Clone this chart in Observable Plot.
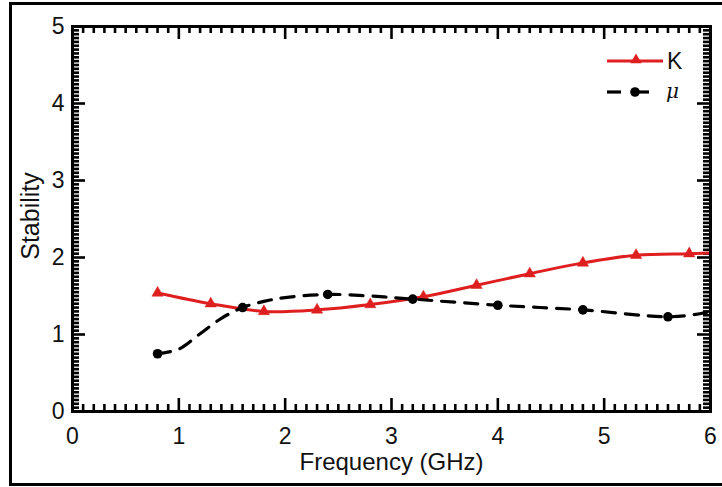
<!DOCTYPE html>
<html>
<head>
<meta charset="utf-8">
<script src="https://cdn.jsdelivr.net/npm/d3@7"></script>
<script src="https://cdn.jsdelivr.net/npm/@observablehq/plot@0.6"></script>
<style>
  html, body { margin: 0; padding: 0; background: #fff; overflow: hidden; }
  #wrap { position: relative; width: 722px; height: 487px; overflow: hidden; }
  #border { position: absolute; left: 9px; top: 2px; width: 730px; height: 484px; border: 3px solid #000; box-sizing: border-box; pointer-events: none; }
  #legend { position: absolute; left: 598px; top: 42px; }
</style>
</head>
<body>
<div id="wrap"><div id="border"></div></div>
<script>
// ---- data ----
const kFreq = [0.8, 1.3, 1.8, 2.3, 2.8, 3.3, 3.8, 4.3, 4.8, 5.3, 5.8];
const kValues = [1.54, 1.40, 1.30, 1.32, 1.39, 1.49, 1.64, 1.79, 1.93, 2.03, 2.05];
const kLineFreq = [0.8, 1.3, 1.8, 2.3, 2.8, 3.3, 3.8, 4.3, 4.8, 5.3, 5.8, 6.0];
const kLineValues = [1.54, 1.40, 1.30, 1.32, 1.39, 1.49, 1.64, 1.79, 1.93, 2.03, 2.05, 2.06];

const muFreq = [0.8, 1.6, 2.4, 3.2, 4.0, 4.8, 5.6];
const muValues = [0.75, 1.35, 1.52, 1.46, 1.38, 1.32, 1.23];
const muLineFreq = [0.8, 1.0, 1.2, 1.4, 1.6, 1.8, 2.0, 2.4, 2.8, 3.2, 4.0, 4.8, 5.6, 5.9, 6.0];
const muLineValues = [0.75, 0.81, 1.01, 1.21, 1.35, 1.43, 1.48, 1.52, 1.50, 1.46, 1.38, 1.32, 1.23, 1.27, 1.30];

const xMajor = [0, 1, 2, 3, 4, 5, 6];
const yMajor = [0, 1, 2, 3, 4, 5];
const xMinor = d3.range(0, 61).map(i => i / 10).filter(v => Math.abs(v - Math.round(v)) > 1e-9);
const yMinor = d3.range(0, 101).map(i => i / 20).filter(v => Math.abs(v - Math.round(v)) > 1e-9);

const seriesNames = ["K", "\u03bc"];
const red = "#df1f1f";

// ---- layout ----
const W = 722, H = 487;
const mL = 72, mR = 12, mT = 26, mB = 76;
const fw = W - mL - mR, fh = H - mT - mB;
const majLen = 13, minLen = 7;

const k = kFreq.map((f, i) => ({f, v: kValues[i]}));
const kLine = kLineFreq.map((f, i) => ({f, v: kLineValues[i]}));
const mu = muFreq.map((f, i) => ({f, v: muValues[i]}));
const muLine = muLineFreq.map((f, i) => ({f, v: muLineValues[i]}));

const tickStyle = {stroke: "#000", strokeWidth: 2.6, strokeLinecap: "butt"};

const chart = Plot.plot({
  width: W, height: H,
  marginLeft: mL, marginRight: mR, marginTop: mT, marginBottom: mB,
  style: {fontFamily: "'Liberation Sans', Arial, sans-serif", fontSize: "23px", color: "#000", background: "transparent"},
  x: {domain: [0, 6]},
  y: {domain: [0, 5]},
  marks: [
    // ticks (inward, on all four sides)
    Plot.tickX(xMajor, {x: d => d, insetTop: fh - majLen, ...tickStyle}),
    Plot.tickX(xMajor, {x: d => d, insetBottom: fh - majLen, ...tickStyle}),
    Plot.tickX(xMinor, {x: d => d, insetTop: fh - minLen, ...tickStyle}),
    Plot.tickX(xMinor, {x: d => d, insetBottom: fh - minLen, ...tickStyle}),
    Plot.tickY(yMajor, {y: d => d, insetRight: fw - majLen, ...tickStyle}),
    Plot.tickY(yMajor, {y: d => d, insetLeft: fw - majLen, ...tickStyle}),
    Plot.tickY(yMinor, {y: d => d, insetRight: fw - minLen, ...tickStyle}),
    Plot.tickY(yMinor, {y: d => d, insetLeft: fw - minLen, ...tickStyle}),
    Plot.axisX({ticks: xMajor, tickSize: 0, tickPadding: 16, label: null, fontSize: 23, fill: "#111", tickFormat: d3.format("d")}),
    Plot.axisY({ticks: yMajor, tickSize: 0, tickPadding: 8, label: null, fontSize: 23, fill: "#111", tickFormat: d3.format("d")}),
    // series
    Plot.line(kLine, {x: "f", y: "v", stroke: red, strokeWidth: 3, curve: "catmull-rom"}),
    Plot.dot(k, {x: "f", y: "v", symbol: "triangle", fill: red, stroke: red, strokeWidth: 0.5, r: 4.2}),
    Plot.line(muLine, {x: "f", y: "v", stroke: "#000", strokeWidth: 3.2, strokeDasharray: "13,10", curve: "catmull-rom"}),
    Plot.dot(mu, {x: "f", y: "v", fill: "#000", r: 4.8}),
    Plot.frame({stroke: "#000", strokeWidth: 3}),
    // axis titles
    Plot.text(["Frequency (GHz)"], {frameAnchor: "bottom", lineAnchor: "middle", textAnchor: "middle", dy: 51, fontSize: 24, fill: "#111"}),
    Plot.text(["Stability"], {frameAnchor: "left", lineAnchor: "middle", textAnchor: "middle", rotate: -90, dx: -42, dy: -3, fontSize: 25, fill: "#111"})
  ]
});
document.getElementById("wrap").prepend(chart);

// ---- legend (inside the plot, top-right) ----
const leg = d3.select("#wrap").append("svg").attr("id", "legend")
  .attr("width", 100).attr("height", 70)
  .style("font-family", "'Liberation Sans', Arial, sans-serif");
// K entry
const g1 = leg.append("g").attr("transform", "translate(0,19)");
g1.append("line").attr("x1", 9).attr("x2", 65).attr("y1", 0).attr("y2", 0)
  .attr("stroke", red).attr("stroke-width", 3);
g1.append("path").attr("d", d3.symbol(d3.symbolTriangle, 55)()).attr("transform", "translate(38,-1)").attr("fill", red);
g1.append("text").attr("x", 69).attr("y", 8).attr("font-size", 23).attr("fill", "#111").text(seriesNames[0]);
// mu entry
const g2 = leg.append("g").attr("transform", "translate(0,50)");
g2.append("line").attr("x1", 9).attr("x2", 23).attr("y1", 0).attr("y2", 0)
  .attr("stroke", "#000").attr("stroke-width", 3.2);
g2.append("line").attr("x1", 37).attr("x2", 51).attr("y1", 0).attr("y2", 0)
  .attr("stroke", "#000").attr("stroke-width", 3.2);
g2.append("circle").attr("cx", 37).attr("cy", 0).attr("r", 4.8).attr("fill", "#000");
g2.append("text").attr("x", 68).attr("y", 6).attr("font-size", 20).attr("font-style", "italic")
  .attr("font-family", "'DejaVu Serif', 'Liberation Serif', serif").attr("fill", "#111").text(seriesNames[1]);
</script>
</body>
</html>
